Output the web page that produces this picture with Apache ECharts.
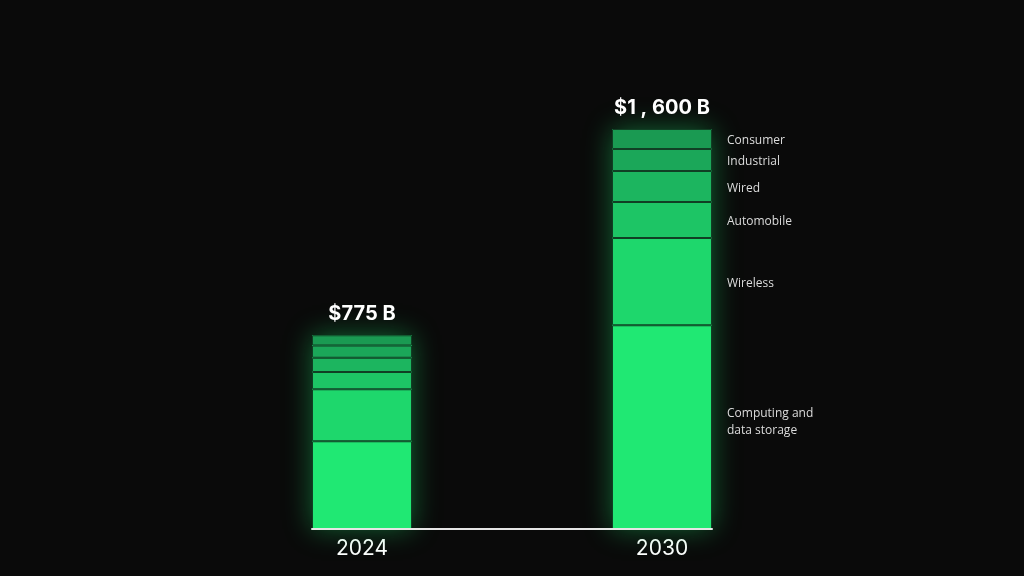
<!DOCTYPE html>
<html>
<head>
<meta charset="utf-8">
<script src="https://cdn.jsdelivr.net/npm/echarts@6/dist/echarts.min.js"></script>
<style>
  html, body { margin: 0; padding: 0; background: #0a0a0a; }
  #chart { width: 1024px; height: 576px; }
</style>
</head>
<body>
<div id="chart"></div>
<script>
// ---- data ----
const years = ['2024', '2030'];
const segmentNames = ['Computing and\ndata storage', 'Wireless', 'Automobile', 'Wired', 'Industrial', 'Consumer'];
const computing  = [351, 815];
const wireless   = [208, 349];
const automobile = [69, 144];
const wired      = [57, 124];
const industrial = [49, 88];
const consumer   = [41, 80];
const totals = [775, 1600];
const totalLabels = ['$775 B', '$1 , 600 B'];

const segmentValues = [computing, wireless, automobile, wired, industrial, consumer];
const segmentColors = ['#20e873', '#1ed76c', '#1dc565', '#1cb55f', '#1ba759', '#1a9a52'];

const chart = echarts.init(document.getElementById('chart'));

const segSeries = segmentValues.map((vals, si) => ({
  type: 'bar',
  name: segmentNames[si],
  stack: 'segments',
  barWidth: 100,
  barGap: '-100%',
  z: 3,
  data: vals.map((v, i) => ({
    value: v,
    label: i === years.length - 1 ? {
      show: true,
      position: 'right',
      distance: 15,
      offset: si === 0 ? [0, -5] : [0, 2],
      formatter: segmentNames[si],
      color: '#dcdcdc',
      fontFamily: 'Open Sans',
      fontSize: 12,
      lineHeight: 17,
      align: 'left'
    } : { show: false }
  })),
  itemStyle: {
    color: segmentColors[si],
    borderColor: '#103f24',
    borderWidth: 1
  },
  emphasis: { disabled: true }
}));

const glowSeries = {
  type: 'bar',
  name: 'total',
  stack: 'glow',
  barWidth: 100,
  barGap: '-100%',
  z: 2,
  data: totals,
  itemStyle: {
    color: '#1fe070',
    shadowBlur: 26,
    shadowColor: 'rgba(30, 230, 110, 0.4)'
  },
  label: {
    show: true,
    position: 'top',
    distance: 11,
    formatter: (p) => totalLabels[p.dataIndex],
    color: '#ffffff',
    fontFamily: 'Inter',
    fontWeight: 'bold',
    fontSize: 20
  },
  emphasis: { disabled: true }
};

chart.setOption({
  backgroundColor: '#0a0a0a',
  animation: false,
  grid: [
    { left: 212, right: 212, top: 29, bottom: 47 },
    { left: 312, right: 312, top: 29, bottom: 47 }
  ],
  xAxis: [
    {
      type: 'category',
      gridIndex: 0,
      data: years,
      boundaryGap: true,
      axisLine: { show: false },
      axisTick: { show: false },
      axisLabel: {
        color: '#ffffff',
        fontFamily: 'Inter',
        fontSize: 21,
        margin: 9
      }
    },
    {
      type: 'value',
      gridIndex: 1,
      min: 0,
      max: 1,
      splitLine: { show: false },
      axisTick: { show: false },
      axisLabel: { show: false },
      axisLine: { show: true, onZero: false, lineStyle: { color: '#e6e6e6', width: 2 } },
      z: 5
    }
  ],
  yAxis: [
    { type: 'value', gridIndex: 0, min: 0, max: 2000, show: false, splitLine: { show: false } },
    { type: 'value', gridIndex: 1, min: 0, max: 1, show: false, splitLine: { show: false } }
  ],
  series: [glowSeries, ...segSeries]
});
</script>
</body>
</html>
